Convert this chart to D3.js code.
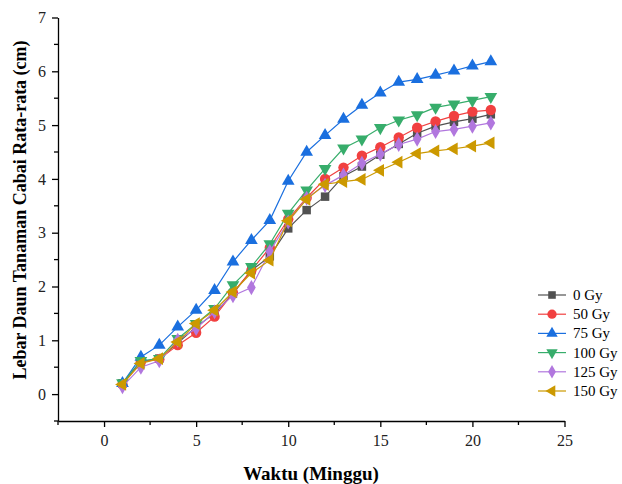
<!DOCTYPE html>
<html>
<head>
<meta charset="utf-8">
<script src="https://cdn.jsdelivr.net/npm/d3@7"></script>
<style>
body{margin:0;background:#fff;}
</style>
</head>
<body>
<div class="box"></div>
<script>
// weeks and series
const weeks=[1,2,3,4,5,6,7,8,9,10,11,12,13,14,15,16,17,18,19,20,21];
const gy0  =[0.20,0.60,0.66,0.95,1.25,1.50,1.87,2.30,2.56,3.08,3.42,3.67,4.05,4.23,4.45,4.65,4.85,4.98,5.06,5.12,5.20];
const gy50 =[0.18,0.60,0.65,0.91,1.14,1.44,1.88,2.30,2.72,3.25,3.65,4.00,4.21,4.43,4.59,4.77,4.95,5.07,5.17,5.25,5.28];
const gy75 =[0.20,0.69,0.91,1.25,1.56,1.93,2.46,2.86,3.23,3.96,4.50,4.81,5.11,5.37,5.60,5.80,5.85,5.93,6.01,6.10,6.18];
const gy100=[0.21,0.62,0.66,1.03,1.31,1.59,2.03,2.37,2.79,3.36,3.79,4.19,4.57,4.74,4.95,5.09,5.19,5.33,5.39,5.46,5.53];
const gy125=[0.14,0.50,0.62,1.00,1.22,1.53,1.83,1.98,2.65,3.20,3.64,3.88,4.07,4.29,4.46,4.64,4.74,4.88,4.92,4.98,5.04];
const gy150=[0.18,0.57,0.66,0.97,1.31,1.56,1.90,2.25,2.49,3.22,3.62,3.90,3.95,3.99,4.16,4.31,4.47,4.52,4.56,4.61,4.67];
const names=['0 Gy','50 Gy','75 Gy','100 Gy','125 Gy','150 Gy'];
const xTicks=[0,5,10,15,20,25];
const yTicks=[0,1,2,3,4,5,6,7];

const FONT='"Liberation Serif","Times New Roman",serif';
const colors=['#515151','#F14040','#1A6FDF','#37AD6B','#B177DE','#CC9900'];
const shapes=[
  {t:d3.symbolSquare,s:72,r:0},
  {t:d3.symbolCircle,s:85,r:0},
  {t:d3.symbolTriangle,s:70,r:0},
  {t:d3.symbolTriangle,s:70,r:180},
  {t:d3.symbolDiamond,s:66,r:0},
  {t:d3.symbolTriangle,s:70,r:-90}
];
const all=[gy0,gy50,gy75,gy100,gy125,gy150];

const svg=d3.select('.box').append('svg').attr('width',622).attr('height',484).style('font-family',FONT);
const x=d3.scaleLinear().domain([-2.5,25]).range([58,564.5]);
const y=d3.scaleLinear().domain([-0.5,7]).range([421,17.5]);

// axes
const axX=d3.axisBottom(x).tickValues(xTicks).tickSize(6).tickPadding(8).tickSizeOuter(0);
const axY=d3.axisLeft(y).tickValues(yTicks).tickSize(6).tickPadding(6).tickSizeOuter(0);
const gX=svg.append('g').attr('transform','translate(0,421)').call(axX);
const gY=svg.append('g').attr('transform','translate(58,0)').call(axY);
// minor ticks
gX.selectAll('.mn').data([-2.5,2.5,7.5,12.5,17.5,22.5]).enter().append('line')
  .attr('x1',d=>x(d)).attr('x2',d=>x(d)).attr('y1',0).attr('y2',4);
gY.selectAll('.mn').data([-0.5,0.5,1.5,2.5,3.5,4.5,5.5,6.5]).enter().append('line')
  .attr('y1',d=>y(d)).attr('y2',d=>y(d)).attr('x1',0).attr('x2',-4);
[gX,gY].forEach(g=>{
  g.attr('font-family',null);
  g.selectAll('text').style('font-family',FONT).attr('font-size',16).attr('fill','#222');
  g.selectAll('line,path').attr('stroke','#000').attr('stroke-width',1.3);
});

svg.append('text').attr('x',311).attr('y',480).attr('text-anchor','middle').style('font-family',FONT)
  .attr('font-weight','bold').attr('font-size',19).text('Waktu (Minggu)');
svg.append('text').attr('transform','translate(26,210) rotate(-90)').attr('text-anchor','middle').style('font-family',FONT)
  .attr('font-weight','bold').attr('font-size',18).text('Lebar Daun Tanaman Cabai Rata-rata (cm)');

const line=d3.line().x((d,i)=>x(weeks[i])).y(d=>y(d));
all.forEach((vals,k)=>{
  const g=svg.append('g');
  g.append('path').datum(vals).attr('d',line).attr('fill','none')
    .attr('stroke',colors[k]).attr('stroke-width',1.2);
  g.selectAll('path.m').data(vals).enter().append('path').attr('class','m')
    .attr('d',d3.symbol().type(shapes[k].t).size(shapes[k].s))
    .attr('transform',(d,i)=>`translate(${x(weeks[i])},${y(d)}) rotate(${shapes[k].r})`)
    .attr('fill',colors[k]);
});

// legend
const lg=svg.append('g').attr('transform','translate(538,295)');
names.forEach((n,k)=>{
  const r=lg.append('g').attr('transform',`translate(0,${k*19.2})`);
  r.append('line').attr('x1',0).attr('x2',28).attr('stroke',colors[k]).attr('stroke-width',1.2);
  r.append('path').attr('d',d3.symbol().type(shapes[k].t).size(shapes[k].s*0.8))
    .attr('transform',`translate(14,0) rotate(${shapes[k].r})`).attr('fill',colors[k]);
  r.append('text').attr('x',35).attr('y',5).style('font-family',FONT).attr('font-size',15).text(n);
});
</script>
</body>
</html>
